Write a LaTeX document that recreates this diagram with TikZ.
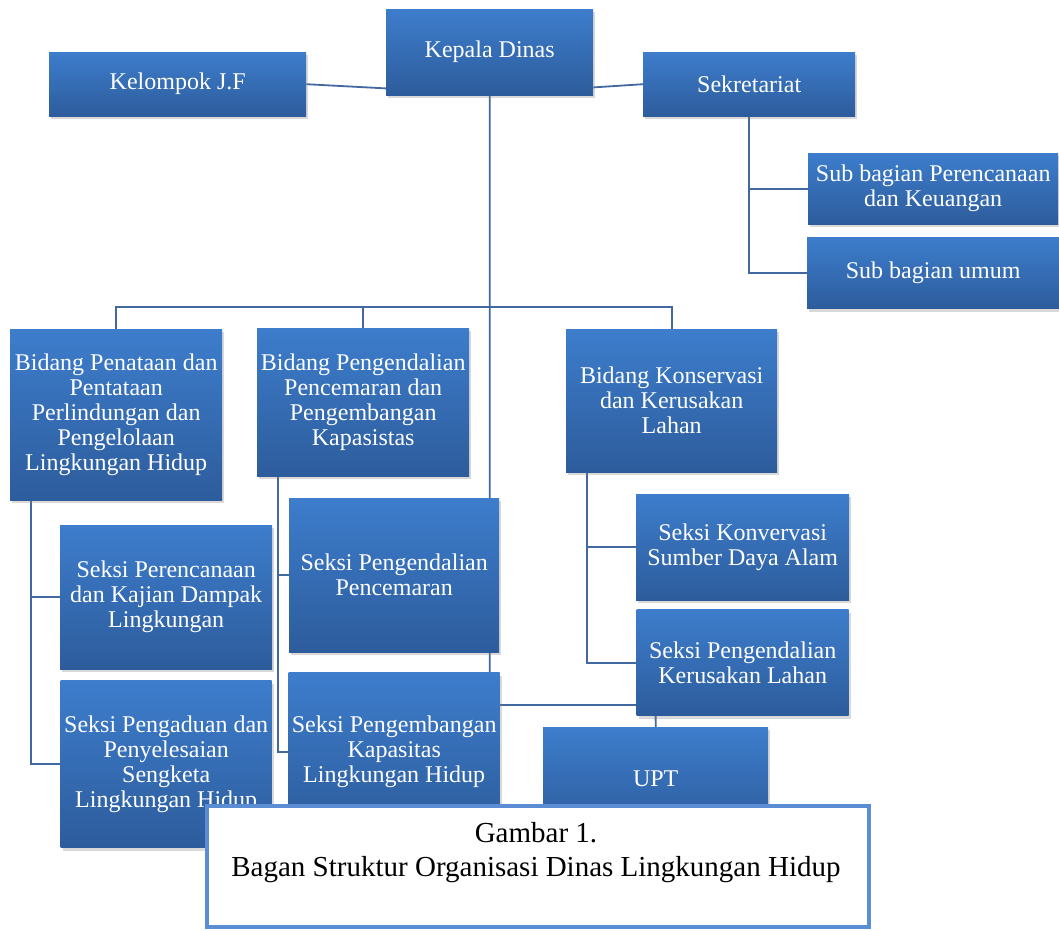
\documentclass[tikz,border=0pt]{standalone}
\usepackage{fontspec}
\setmainfont{Liberation Serif}
\usetikzlibrary{positioning,shadows}
\definecolor{boxtop}{HTML}{3D7DCC}
\definecolor{boxbot}{HTML}{2D5C9C}
\definecolor{linkblue}{HTML}{43689F}
\definecolor{capblue}{HTML}{5B8DD5}
\pgfdeclarelayer{back}
\pgfsetlayers{back,main}

\begin{document}
\begin{tikzpicture}[x=1pt,y=-1pt]
\tikzstyle{unit}=[rectangle, anchor=north west, inner sep=2pt, align=center, text=white, top color=boxtop, bottom color=boxbot, font=\fontsize{24}{25}\selectfont, drop shadow={shadow xshift=2pt, shadow yshift=-3pt, opacity=0.3}]
\tikzstyle{connect}=[draw=linkblue, line width=1.8pt]
\tikzstyle{capbox}=[rectangle, anchor=north west, draw=capblue, line width=4pt, fill=white]
\useasboundingbox (0,0) rectangle (1059,930);
  \node[unit, minimum width=207, minimum height=86] (kd) at (386,9) {Kepala Dinas};
  \node[unit, minimum width=257, minimum height=64] (kj) at (49,52) {Kelompok J.F};
  \node[unit, minimum width=212, minimum height=64] (sek) at (643,52) {Sekretariat};
  \node[unit, minimum width=250, minimum height=71] (sb1) at (808,153) {Sub bagian Perencanaan\\dan Keuangan};
  \node[unit, minimum width=252, minimum height=71] (sb2) [below=13pt of sb1] {Sub bagian umum};
  % bidang
  \node[unit, minimum width=212, minimum height=171] (bid1) at (10,329) {Bidang Penataan dan\\Pentataan\\Perlindungan dan\\Pengelolaan\\Lingkungan Hidup};
  \node[unit, minimum width=212, minimum height=148] (bid2) at (257,328) {Bidang Pengendalian\\Pencemaran dan\\Pengembangan\\Kapasistas};
  \node[unit, minimum width=211, minimum height=143] (bid3) at (566,329) {Bidang Konservasi\\dan Kerusakan\\Lahan};
  % seksi
  \node[unit, minimum width=212, minimum height=144] (sk11) at (60,525) {Seksi Perencanaan\\dan Kajian Dampak\\Lingkungan};
  \node[unit, minimum width=211, minimum height=167] (sk12) [below=11pt of sk11] {Seksi Pengaduan dan\\Penyelesaian\\Sengketa\\Lingkungan Hidup};
  \node[unit, minimum width=210, minimum height=154] (sk21) at (289,498) {Seksi Pengendalian\\Pencemaran};
  \node[unit, minimum width=211, minimum height=158] (sk22) [below=20pt of sk21] {Seksi Pengembangan\\Kapasitas\\Lingkungan Hidup};
  \node[unit, minimum width=213, minimum height=106] (sk31) at (636,494) {Seksi Konvervasi\\Sumber Daya Alam};
  \node[unit, minimum width=212, minimum height=106] (sk32) [below=9pt of sk31] {Seksi Pengendalian\\Kerusakan Lahan};
  \node[unit, minimum width=225, minimum height=103] (upt) at (543,727) {UPT};
\begin{pgfonlayer}{back}
  \coordinate (bus) at (489.5,307);
  \coordinate (uptjoin) at (655.5,705);
  \draw[connect] (kd.south) |- (uptjoin) -- (upt.north);
  \draw[connect] (bid1.north) |- (bus)
                 (bid2.north) |- (bus)
                 (bid3.north) |- (bus);
  \draw[connect] (kj.east) -- ([yshift=7pt]kd.south west);
  \draw[connect] (sek.west) -- ([yshift=8pt]kd.south east);
  \draw[connect] (sek.south) |- (sb1.west)
                 (sek.south) |- (sb2.west);
  \draw[connect] ([xshift=21pt]bid1.south west) |- (sk11.west)
                 ([xshift=21pt]bid1.south west) |- (sk12.west);
  \draw[connect] ([xshift=21pt]bid2.south west) |- (sk21.west)
                 ([xshift=21pt]bid2.south west) |- (sk22.west);
  \draw[connect] ([xshift=21pt]bid3.south west) |- (sk31.west)
                 ([xshift=21pt]bid3.south west) |- (sk32.west);
\end{pgfonlayer}
  % caption
  \node[capbox, minimum width=662, minimum height=121] (cap) at (205,804) {};
  \node[font=\fontsize{29}{34}\selectfont, align=center] (captxt) at (536,853) {Gambar 1.\\Bagan Struktur Organisasi Dinas Lingkungan Hidup};
\end{tikzpicture}
\end{document}
